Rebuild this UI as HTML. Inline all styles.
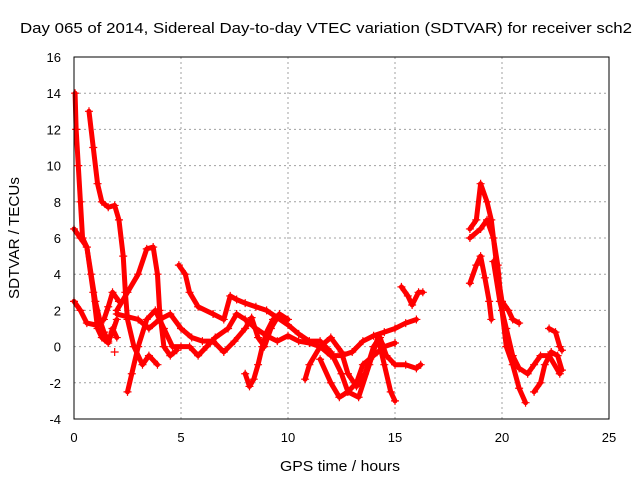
<!DOCTYPE html>
<html><head><meta charset="utf-8"><style>body{margin:0;background:#fff}svg{display:block}text{font-family:"Liberation Sans",sans-serif;fill:#000}</style></head>
<body>
<svg id="c" width="640" height="480"></svg>
<script>
const xTicks=[0,5,10,15,20,25];
const yTicks=[-4,-2,0,2,4,6,8,10,12,14,16];
const track1=[[0.05,14],[0.1,12],[0.2,10],[0.3,8],[0.4,6],[0.6,5.5],[0.8,4],[1.0,2.5],[1.2,1.5],[1.4,0.8],[1.6,0.3],[1.8,0.8],[2.0,1.5]];
const track2=[[0.7,13],[0.9,11],[1.1,9],[1.3,8],[1.6,7.7],[1.9,7.8],[2.1,7],[2.3,5],[2.4,3],[2.5,1.5],[2.8,0],[3.2,-1],[3.5,-0.5],[3.9,-1]];
const track3=[[0,6.5],[0.3,6],[0.6,5.5],[0.9,3],[1.1,1],[1.3,0.5],[1.6,0.2],[1.8,1],[2.0,0.5]];
const track4=[[0,2.5],[0.3,2],[0.6,1.3],[1.0,1.2],[1.4,1.5],[1.6,2.2],[1.8,3],[2.1,2.5]];
const track5=[[2.0,2],[2.5,3],[3,4],[3.4,5.4],[3.7,5.5],[3.9,4],[4.0,2],[4.2,0],[4.5,-0.5],[4.8,-0.2]];
const track6=[[2.5,-2.5],[2.7,-1.5],[3.0,0],[3.4,1.5],[3.8,2],[4.2,1],[4.6,0],[5.0,0],[5.4,0],[5.8,-0.5],[6.2,0],[6.6,0.5],[7.2,1],[7.6,1.8],[8,1.5],[8.5,1],[9,0.6],[9.5,0.3],[10,0.6],[10.5,0.3],[11,0.2],[11.5,0],[12,-0.5],[12.5,-0.5],[13,-0.3],[13.5,0.3],[14,0.6],[14.5,0.8],[15,1],[15.5,1.3],[16,1.5]];
const track7=[[4.9,4.5],[5.2,4],[5.4,3],[5.8,2.2],[6.5,1.8],[7.0,1.5],[7.3,2.8],[7.6,2.6],[8,2.4],[8.5,2.2],[9,2],[9.5,1.6],[10,1.2],[10.5,0.7],[11,0.3],[11.5,0.3],[12,-0.3],[12.5,-1.5],[12.8,-2.5],[13.2,-2],[13.5,-1],[14,-0.5],[14.5,0],[15,0.2]];
const track8=[[2.0,1.8],[3,1.5],[3.5,1.0],[4,1.5],[4.5,1.8],[5,1],[5.5,0.5],[6,0.3],[6.5,0.3],[7.0,-0.3],[7.5,0.3],[8,1],[8.3,1.6],[8.6,0.5],[8.9,0],[9.2,1],[9.6,1.8],[10,1.5]];
const track9=[[8.0,-1.5],[8.2,-2.2],[8.4,-1.8],[8.6,-1],[8.8,0],[9,0.8],[9.3,1.5]];
const track10=[[10.8,-1.8],[11,-1],[11.5,0],[12,0.5],[12.5,-0.3],[12.8,-1.5],[13.2,-2.2],[13.6,-1.5],[14,0],[14.3,0.5],[14.6,-0.5],[15,-1],[15.5,-1],[16,-1.2],[16.2,-1]];
const track11=[[11.5,-0.7],[12,-2],[12.4,-2.8],[12.8,-2.5],[13.3,-2.8],[13.8,-1],[14.2,0.5],[14.5,-1],[14.8,-2.5],[15,-3]];
const track12=[[15.3,3.3],[15.6,2.8],[15.8,2.3],[16.1,3],[16.3,3]];
const track13=[[18.5,6.5],[18.8,7],[19.0,9],[19.3,8],[19.5,7],[19.8,4],[20.0,2.5],[20.3,2],[20.5,1.5],[20.8,1.3]];
const track14=[[18.5,6],[19,6.5],[19.3,7],[19.6,6],[19.8,4.5],[20,2],[20.2,0],[20.5,-1],[20.8,-2.3],[21.1,-3.1]];
const track15=[[18.5,3.5],[18.8,4.5],[19.0,5],[19.2,3.8],[19.4,2.5],[19.5,1.5]];
const track16=[[19.6,4.7],[19.9,2.5],[20.2,1],[20.5,-0.5],[20.8,-1.2],[21.2,-1.5],[21.5,-1],[21.8,-0.5],[22.2,-0.5],[22.7,-1.5]];
const track17=[[21.5,-2.5],[21.8,-2],[22,-1],[22.3,-0.3],[22.6,-0.5],[22.8,-1.3]];
const track18=[[22.2,1],[22.5,0.8],[22.7,0],[22.8,-0.2]];
const track19=[[1.9,-0.3]];
const tracks=[track1,track2,track3,track4,track5,track6,track7,track8,track9,track10,track11,track12,track13,track14,track15,track16,track17,track18,track19];

const L=74,R=609,T=57,B=419,X0=0,X1=25,Y0=-4,Y1=16;
const sx=v=>L+(v-X0)/(X1-X0)*(R-L);
const sy=v=>B-(v-Y0)/(Y1-Y0)*(B-T);
const svg=document.getElementById('c');
const NS='http://www.w3.org/2000/svg';
function mk(t,a,p){const e=document.createElementNS(NS,t);for(const k in a)e.setAttribute(k,a[k]);(p||svg).appendChild(e);return e;}

xTicks.forEach(v=>{
  if(v>X0&&v<X1){const g=mk('line',{x1:sx(v),x2:sx(v),y1:T,y2:B,stroke:'#a0a0a0','stroke-dasharray':'2,3'});
  
  }
  const t=mk('text',{x:sx(v),y:B+23,'text-anchor':'middle','font-size':'13'});t.textContent=v;
  
  
});
yTicks.forEach(v=>{
  if(v>Y0&&v<Y1){const g=mk('line',{x1:L,x2:R,y1:sy(v),y2:sy(v),stroke:'#a0a0a0','stroke-dasharray':'2,3'});
  
  }
  const t=mk('text',{x:L-13,y:sy(v)+5,'text-anchor':'end','font-size':'13'});t.textContent=v;
  
  
});
tracks.forEach(tr=>{
  const pl=mk('polyline',{points:tr.map(p=>sx(p[0])+','+sy(p[1])).join(' '),fill:'none',stroke:'#ff0000','stroke-width':5,'stroke-linejoin':'round','stroke-linecap':'round'});
  
  
  tr.forEach(p=>{
    const x=sx(p[0]),y=sy(p[1]);
    const m=mk('path',{d:`M${x-4},${y}H${x+4}M${x},${y-4}V${y+4}`,stroke:'#ff0000','stroke-width':1.2});
    
    
  });
});
const fr=mk('rect',{x:L,y:T,width:R-L,height:B-T,fill:'none',stroke:'#000','stroke-width':1});


const ti=mk('text',{x:20,y:33,'font-size':'15',textLength:612,lengthAdjust:'spacingAndGlyphs'});ti.textContent='Day 065 of 2014, Sidereal Day-to-day VTEC variation (SDTVAR) for receiver sch2';


const xl=mk('text',{x:280,y:471,'font-size':'15',textLength:120,lengthAdjust:'spacingAndGlyphs'});xl.textContent='GPS time / hours';


const yl=mk('text',{x:-61,y:0,'font-size':'15',textLength:122,lengthAdjust:'spacingAndGlyphs',transform:'translate(19,238) rotate(-90)'});yl.textContent='SDTVAR / TECUs';


</script>
</body></html>
